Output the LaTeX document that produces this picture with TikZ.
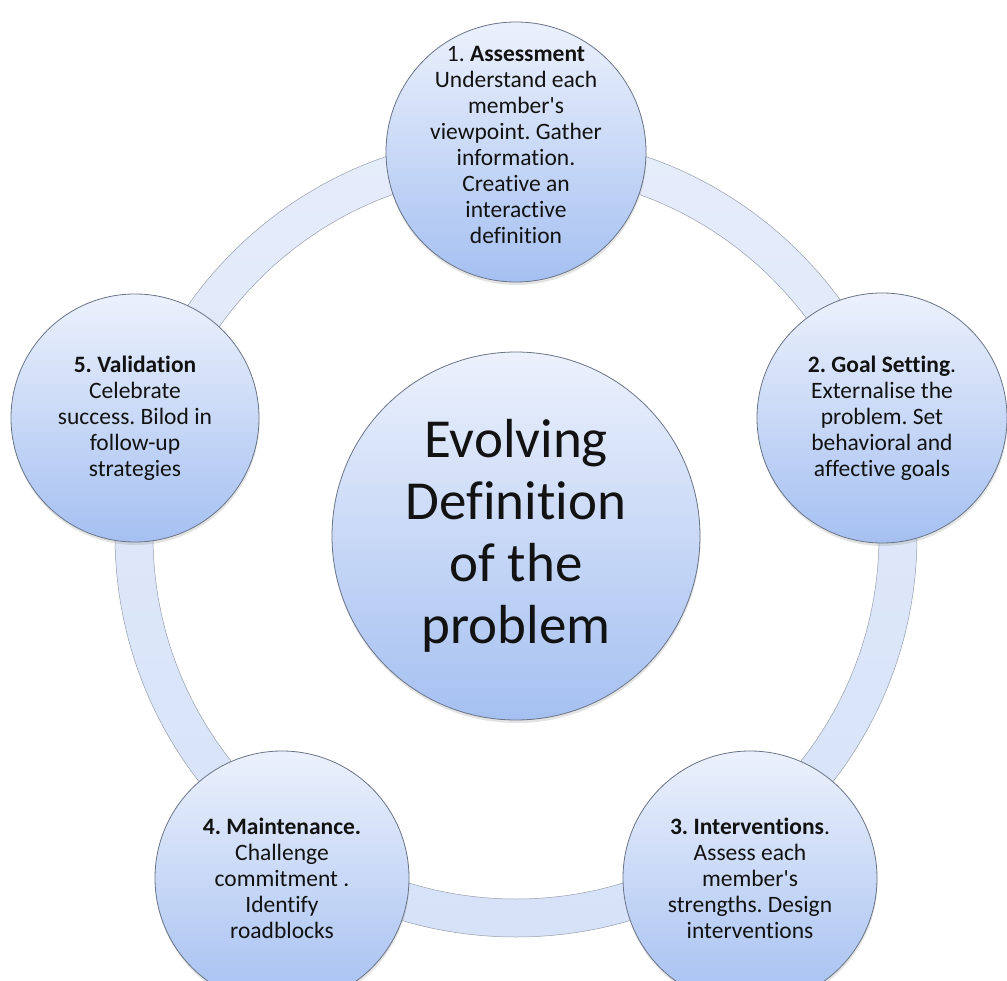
\documentclass[tikz,border=0pt]{standalone}
\usepackage{fontspec}
\setmainfont{Carlito}[Ligatures={NoCommon}]
\usetikzlibrary{shadows}
\frenchspacing

\definecolor{discTop}{RGB}{236,241,252}
\definecolor{discBot}{RGB}{165,192,241}
\definecolor{discLine}{RGB}{105,116,134}
\definecolor{ringTop}{RGB}{230,236,250}
\definecolor{ringBot}{RGB}{214,226,248}
\definecolor{ringLine}{RGB}{150,158,172}
\definecolor{ink}{RGB}{18,18,18}

\newcommand{\apos}{\textquotesingle}

\begin{document}
\begin{tikzpicture}[
  x=1pt, y=-1pt,
  disc/.style={circle, draw=discLine, line width=0.8pt,
               top color=discTop, bottom color=discBot,
               align=center, text=ink, inner sep=0pt,
               drop shadow={shadow xshift=0.5pt, shadow yshift=-3pt,
                            opacity=0.22}},
  stagetext/.style={align=center, text=ink,
                    font=\fontsize{23.5}{26}\selectfont},
  stagebox/.style={disc, stagetext, minimum size=254pt},
  hub/.style={disc, minimum size=368pt,
              font=\fontsize{55}{62}\selectfont}
]
  \useasboundingbox (0,0) rectangle (1007,981);
  \coordinate (mid) at (516,536);

  % the band joining the stages
  \shade[even odd rule, top color=ringTop, bottom color=ringBot]
    (mid) circle[radius=401pt] (mid) circle[radius=363pt];
  \draw[ringLine, line width=0.5pt] (mid) circle[radius=401pt];
  \draw[ringLine, line width=0.5pt] (mid) circle[radius=363pt];

  \node[hub] (core) at (mid) {Evolving\\Definition\\of the\\problem};

  % outer stages; the first one's text sits a little above its centre
  \node[stagebox, minimum size=260pt] (assess) at (516,152) {};
  \node[stagetext] (assesstext) at ([yshift=7pt]assess.center)
    {1. \textbf{Assessment}\\Understand each\\member\apos s\\viewpoint. Gather\\
     information.\\Creative an\\interactive\\definition};
  \node[stagebox, minimum size=250pt] (goal) at (882,418)
    {\textbf{2. Goal Setting}.\\Externalise the\\problem. Set\\
     behavioral and\\affective goals};
  \node[stagebox] (interv) at (750,878)
    {\textbf{3. Interventions}.\\Assess each\\member\apos s\\
     strengths. Design\\interventions};
  \node[stagebox] (maint) at (282,878)
    {\textbf{4. Maintenance.}\\Challenge\\commitment .\\Identify\\roadblocks};
  \node[stagebox, minimum size=248pt] (valid) at (135,418)
    {\textbf{5. Validation}\\Celebrate\\success. Bilod in\\follow-up\\strategies};
\end{tikzpicture}
\end{document}
